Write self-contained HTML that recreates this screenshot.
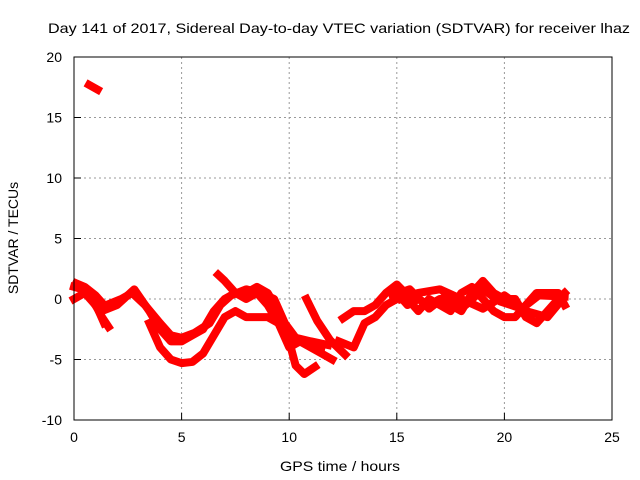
<!DOCTYPE html>
<html><head><meta charset="utf-8"><style>
body{margin:0;background:#fff}
svg{display:block;font-family:"Liberation Sans",sans-serif;font-size:14px}
</style></head><body>
<svg id="chart" width="640" height="480" xmlns="http://www.w3.org/2000/svg">
<text x="48" y="33" textLength="582" lengthAdjust="spacingAndGlyphs">Day 141 of 2017, Sidereal Day-to-day VTEC variation (SDTVAR) for receiver lhaz</text>
<text x="280" y="471" textLength="120" lengthAdjust="spacingAndGlyphs">GPS time / hours</text>
<text x="18" y="238" text-anchor="middle" transform="rotate(-90 18 238)">SDTVAR / TECUs</text>
<g id="grid"></g><g id="ticks"></g><g id="series"></g>
<rect x="74" y="57" width="538" height="363" fill="none" stroke="#000" stroke-width="1"/>
</svg>
<script>
const xTicks=[0,5,10,15,20,25];
const yTicks=[-10,-5,0,5,10,15,20];
const trackA=[[0,1],[0.4,0.8],[0.8,0],[1.1,-0.8],[1.4,-2]];
const trackA2=[[0,0],[0.5,0.5],[1,-0.5],[1.3,-1.5],[1.6,-2.3]];
const trackA3=[[0.1,1.3],[0.5,1],[1,0.3],[1.4,-0.5]];
const trackB=[[1.3,-1],[2,-0.5],[2.8,0.8],[3.5,-1],[4,-2.5],[4.5,-3.5],[5,-3.5],[5.5,-3],[6,-2.5],[6.5,-1],[7,0],[7.5,0.5],[8,0.5],[8.5,1],[9,0.5],[9.5,-1],[10,-3],[10.5,-3.5],[11,-4],[11.5,-4.5],[12,-5]];
const trackB2=[[1.5,-0.5],[2.2,0],[2.7,0.5],[3.3,-0.5],[4,-2],[4.5,-3],[5,-3.2],[5.6,-2.8],[6.3,-2],[6.8,-0.5],[7.3,0.3],[8,0.8],[8.7,0.5],[9.3,0],[9.8,-2],[10.3,-3.2],[11,-3.5],[11.8,-3.8]];
const trackC=[[3.5,-2],[4,-4],[4.5,-5],[5,-5.3],[5.5,-5.2],[6,-4.5],[6.5,-3],[7,-1.5],[7.5,-1],[8,-1.5],[8.5,-1.5],[9,-1.5],[9.5,-2],[10,-3.5],[10.3,-5.5],[10.7,-6.2],[11.2,-5.6]];
const trackD=[[6.7,2],[7,1.5],[7.5,0.5],[8,0],[8.5,0.5],[9,-0.5],[9.5,-2],[10,-4],[10.5,-3.5],[11,-3.8],[11.5,-4]];
const trackE=[[10.8,0],[11.3,-1.8],[11.9,-3.4],[12.6,-4.6]];
const trackF=[[12.3,-3.5],[13,-4],[13.5,-2],[14,-1.5],[14.5,-0.5],[15,0],[15.5,0.5],[16,0]];
const trackG=[[12.5,-1.6],[13,-1],[13.5,-1],[14,-0.5],[14.5,0.5],[15,1.2],[15.5,0.3]];
const trackH=[[15,0.5],[15.5,-0.5],[16,0],[16.5,-0.5],[17,0],[17.5,-0.5],[18,-1],[18.5,0.5],[19,1.5],[19.5,0.5],[20,0],[20.5,0],[21,-1.5],[21.5,-2],[22,-1],[22.5,0],[22.8,0.5]];
const trackI=[[15,1],[15.5,0],[16,-1],[16.5,0],[17,-0.5],[17.5,-1],[18,0.5],[18.5,1],[19,0],[19.5,-1],[20,-1.5],[20.5,-1.5],[21,-0.5],[21.5,0.5],[22,0.5],[22.5,0.5],[22.8,-0.5]];
const trackJ=[[15.2,0],[16,0.5],[17,0.8],[18,0],[19,-0.8],[20,0.3],[21,-1],[22,-1.5],[22.7,0]];
const trackK=[[14.8,0.3],[15.6,0.8],[16.5,-0.8],[17.3,0.3],[18.2,-0.5],[19,0.8],[19.8,-0.2],[20.8,-0.8],[21.6,0.3],[22.8,0.2]];
const outlier=[[0.7,17.7],[1.1,17.3]];
const tracks=[trackA,trackA2,trackA3,trackB,trackB2,trackC,trackD,trackE,trackF,trackG,trackH,trackI,trackJ,trackK,outlier];
const X=h=>74+h*538/25, Y=v=>420-(v+10)*363/30;
const ns="http://www.w3.org/2000/svg";
const g=document.getElementById('grid'),t=document.getElementById('ticks'),s=document.getElementById('series');
function mk(tag,at,p){const e=document.createElementNS(ns,tag);for(const k in at)e.setAttribute(k,at[k]);p.appendChild(e);return e;}
xTicks.forEach(v=>{
 if(v>0&&v<25){const l=mk('line',{x1:X(v),x2:X(v),y1:57,y2:420,stroke:'#999','stroke-dasharray':'2,3'},g);
 
 }
 const tk=mk('line',{x1:X(v),x2:X(v),y1:420,y2:413,stroke:'#000'},t);
 
 
 const tx=mk('text',{x:X(v),y:442,'text-anchor':'middle'},t);tx.textContent=v;
 
 
});
yTicks.forEach(v=>{
 if(v>-10&&v<20){const l=mk('line',{x1:74,x2:612,y1:Y(v),y2:Y(v),stroke:'#999','stroke-dasharray':'2,3'},g);
 
 }
 const tk=mk('line',{x1:74,x2:81,y1:Y(v),y2:Y(v),stroke:'#000'},t);
 
 
 const tx=mk('text',{x:62,y:Y(v)+5,'text-anchor':'end'},t);tx.textContent=v;
 
 
});
tracks.forEach(tr=>{
 const p=mk('polyline',{points:tr.map(d=>X(d[0])+','+Y(d[1])).join(' '),fill:'none',stroke:'#f00','stroke-width':8,'stroke-linejoin':'round','stroke-linecap':'square'},s);
 
 
});
</script>
</body></html>
